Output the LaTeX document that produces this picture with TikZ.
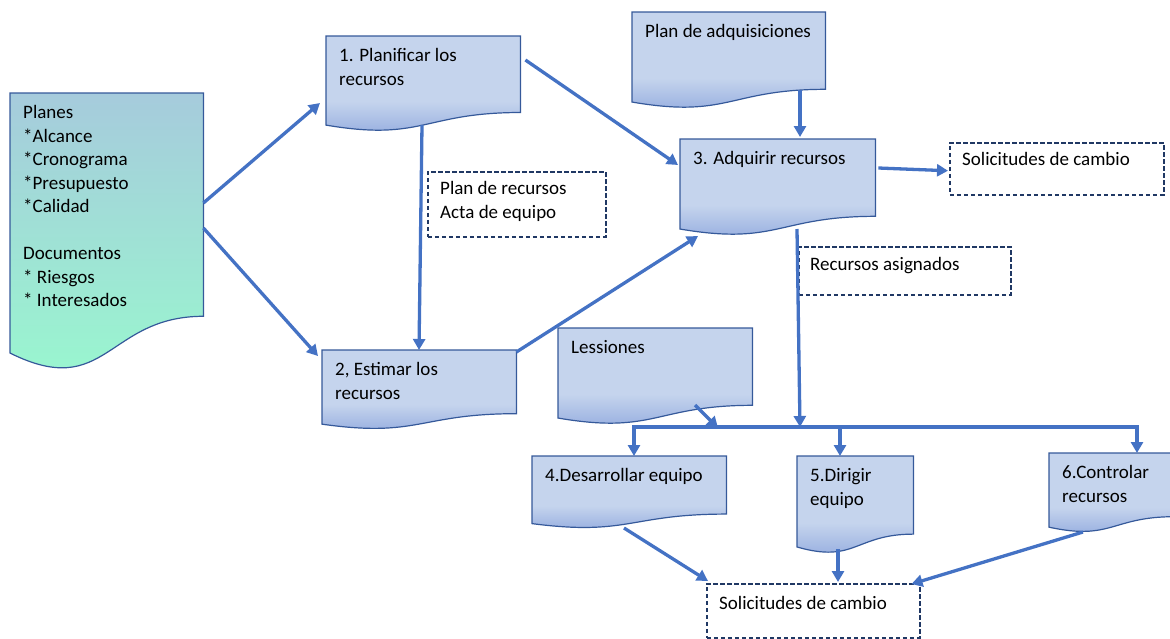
\documentclass[tikz,border=0pt]{standalone}
\usepackage{fontspec}
\setmainfont{Carlito}
\usetikzlibrary{arrows.meta,calc,backgrounds}
\definecolor{docfill}{HTML}{C5D4ED}
\definecolor{docdark}{HTML}{9FB5E2}
\definecolor{docedge}{HTML}{35599A}
\definecolor{plantop}{HTML}{A6CBDC}
\definecolor{planbot}{HTML}{98FACE}
\definecolor{flowblue}{HTML}{4472C4}
\definecolor{noteedge}{HTML}{203864}
\pgfdeclareverticalshading{docshade}{100bp}{color(0bp)=(docdark); color(31bp)=(docdark);
  color(44bp)=(docfill); color(100bp)=(docfill)}
% wavy outline round a document node
\newcommand\wavebox[2]{\path[#2] (#1.north west) -- (#1.north east) --
  ($(#1.north east)!0.802!(#1.south east)$) .. controls ($(#1.north)!0.802!(#1.south)$)
  and ($(#1.north)!1.107!(#1.south)$) .. ($(#1.north west)!0.934!(#1.south west)$) -- cycle;}
\begin{document}
\begin{tikzpicture}[x=1pt,y=-1pt,
  doc/.style={rectangle,anchor=north west,inner sep=0pt},
  note/.style={doc,draw=noteedge,line width=1.5pt,dash pattern=on 4.5pt off 2.5pt},
  txt/.style={anchor=north west,inner sep=0pt,align=left,xshift=13pt,yshift=-9pt,
    font=\fontsize{19}{23.5}\selectfont},
  flow/.style={draw=flowblue,line width=3.3pt,-{Triangle[length=11pt,width=12pt]}},
  bluedoc/.style={draw=docedge,line width=1.2pt,shading=docshade}]
  \useasboundingbox (0,0) rectangle (1170,638);

  \node[doc,minimum width=193pt,minimum height=278pt,label={[txt]north west:{\strut Planes\\{*}Alcance\\{*}Cronograma\\{*}Presupuesto\\{*}Calidad\\[23.5pt]Documentos\\{*} Riesgos\\{*} Interesados}}] (plans) at (10,93) {};
  \node[doc,minimum width=194pt,minimum height=95pt,label={[txt]north west:{\strut 1. Planificar los\\recursos}}] (n1) at (326,36) {};
  \node[doc,minimum width=193pt,minimum height=96pt,label={[txt]north west:{\strut Plan de adquisiciones}}] (adq) at (632,12) {};
  \node[doc,minimum width=195pt,minimum height=96pt,label={[txt]north west:{\strut 3. Adquirir recursos}}] (n3) at (680,139) {};
  \node[doc,minimum width=194pt,minimum height=79pt,label={[txt]north west:{\strut 2, Estimar los\\recursos}}] (n2) at (322,350) {};
  \node[doc,minimum width=194pt,minimum height=96pt,label={[txt]north west:{\strut Lessiones}}] (less) at (558,328) {};
  \node[doc,minimum width=194pt,minimum height=72pt,label={[txt]north west:{\strut 4.Desarrollar equipo}}] (n4) at (532,456) {};
  \node[doc,minimum width=116pt,minimum height=97pt,label={[txt]north west:{\strut 5.Dirigir\\equipo}}] (n5) at (797,456) {};
  \node[doc,minimum width=125pt,minimum height=79pt,label={[txt]north west:{\strut 6.Controlar\\recursos}}] (n6) at (1049,453) {};

  \node[note,minimum width=214pt,minimum height=52pt,label={[txt,yshift=2pt]north west:{\strut Solicitudes de cambio}}] (chg1) at (949,142) {};
  \node[note,minimum width=178pt,minimum height=65pt,label={[txt,yshift=2pt]north west:{\strut Plan de recursos\\Acta de equipo}}] (prec) at (427,171) {};
  \node[note,minimum width=212pt,minimum height=48pt,label={[txt,xshift=-1pt,yshift=1pt]north west:{\strut Recursos asignados}}] (asig) at (798,246) {};
  \node[note,minimum width=213pt,minimum height=54pt,label={[txt,yshift=-1pt]north west:{\strut Solicitudes de cambio}}] (chg2) at (706,583) {};

  \begin{scope}[on background layer]
    \wavebox{plans}{draw=docedge,line width=1.2pt,top color=plantop,bottom color=planbot}
    \foreach \d in {n1,adq,n3,n2,less,n4,n5,n6} {\wavebox{\d}{bluedoc}}
  \end{scope}

  \coordinate (busL) at (634,427);
  \coordinate (busC) at (800,427);
  \coordinate (busM) at (840,427);
  \coordinate (busR) at (1137,427);
  \coordinate (lessend) at (718,428);

  \draw[flow] ($(plans.north east)+(0,110)$) -- ($(n1.north west)+(-6,67)$);
  \draw[flow] ($(plans.north east)+(0,135)$) -- ($(n2.north west)+(-4,6)$);
  \draw[flow] ($(n1.north west)+(96,89)$) -- ($(n2.north west)+(97,0)$);
  \draw[flow] ($(n1.north east)+(5,24)$) -- ($(n3.north west)+(-2,26)$);
  \draw[flow] ($(n2.north east)+(0,2)$) -- ($(n3.north west)+(18,97)$);
  \draw[flow] ($(adq.north west)+(168,78)$) -- ($(n3.north west)+(120,-2)$);
  \draw[flow] ($(n3.north east)+(3,29)$) -- ($(chg1.west)+(-1,2)$);
  \draw[flow] ($(n3.north west)+(117,90)$) -- (busC);
  \draw[flow] ($(less.north west)+(137,77)$) -- (lessend);
  \draw[flow] (busC) -| (busL |- n4.north);
  \draw[flow] (busC) -| (busR |- n6.north);
  \draw[flow] (busM) -- (busM |- n5.north);
  \draw[flow] ($(n4.north west)+(92,72)$) -- ($(chg2.north west)+(2,-2)$);
  \draw[flow] ($(n5.north west)+(41,93)$) -- ($(chg2.north west)+(132,-1)$);
  \draw[flow] ($(n6.north west)+(34,79)$) -- ($(chg2.north east)+(-9,1)$);
\end{tikzpicture}
\end{document}
